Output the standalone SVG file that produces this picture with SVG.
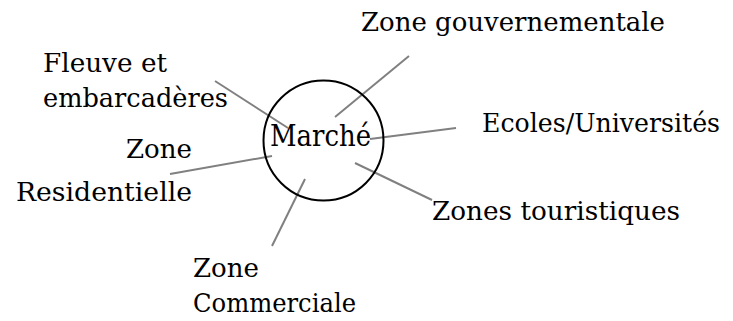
<svg xmlns="http://www.w3.org/2000/svg" width="733" height="321" viewBox="0 0 733 321">
<style>
text{font-family:"DejaVu Serif","Liberation Serif",serif;font-size:26px;fill:#000}
.m{font-size:29px}
.c{stroke:#808080;stroke-width:2;fill:none}
</style>
<rect width="733" height="321" fill="#fff"/>
<g id="connectors">
<line class="c" x1="215" y1="81" x2="288" y2="128"/>
<line class="c" x1="170" y1="174" x2="272" y2="156"/>
<line class="c" x1="272" y1="246" x2="305" y2="179"/>
<line class="c" x1="409" y1="56" x2="335" y2="117"/>
<line class="c" x1="370" y1="139" x2="456" y2="128"/>
<line class="c" x1="355" y1="163" x2="432" y2="200"/>
</g>
<g id="marche">
<circle cx="323.5" cy="140.5" r="60" fill="none" stroke="#000" stroke-width="2"/>
<text class="m" x="270" y="146" textLength="101" lengthAdjust="spacingAndGlyphs">Marché</text>
</g>
<g id="gouv"><text x="361" y="31" textLength="304" lengthAdjust="spacingAndGlyphs">Zone gouvernementale</text></g>
<g id="ecoles"><text x="482" y="132" textLength="238" lengthAdjust="spacingAndGlyphs">Ecoles/Universités</text></g>
<g id="tour"><text x="432" y="220" textLength="248" lengthAdjust="spacingAndGlyphs">Zones touristiques</text></g>
<g id="fleuve">
<text x="43" y="72" textLength="124" lengthAdjust="spacingAndGlyphs">Fleuve et</text>
<text x="43" y="107" textLength="185" lengthAdjust="spacingAndGlyphs">embarcadères</text>
</g>
<g id="resid">
<text x="126" y="158" textLength="66" lengthAdjust="spacingAndGlyphs">Zone</text>
<text x="16" y="201" textLength="176" lengthAdjust="spacingAndGlyphs">Residentielle</text>
</g>
<g id="comm">
<text x="193" y="277" textLength="66" lengthAdjust="spacingAndGlyphs">Zone</text>
<text x="193" y="312" textLength="163" lengthAdjust="spacingAndGlyphs">Commerciale</text>
</g>
</svg>
